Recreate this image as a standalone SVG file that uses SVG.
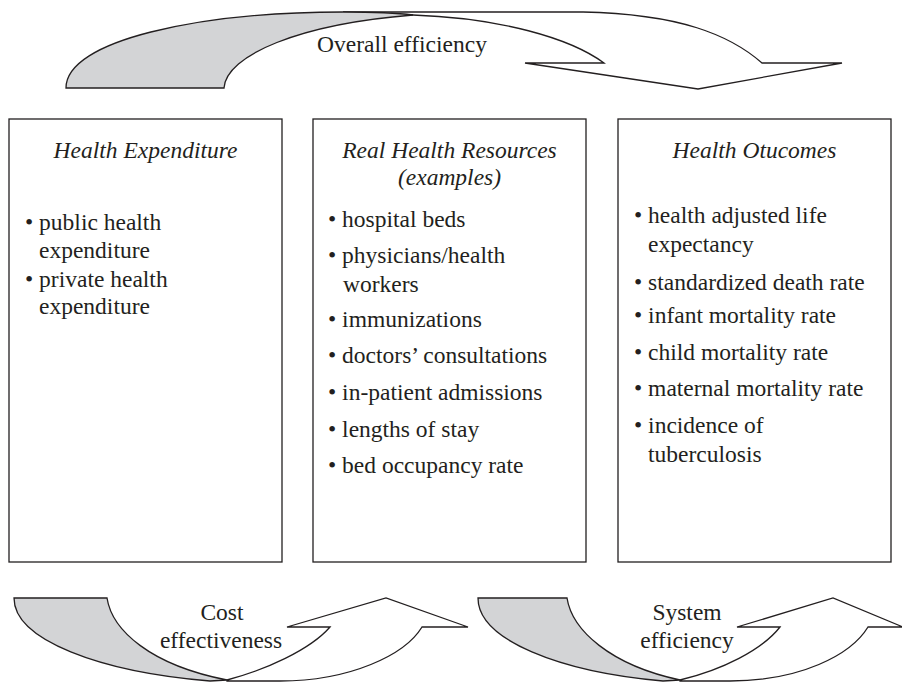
<svg xmlns="http://www.w3.org/2000/svg" width="902" height="682" viewBox="0 0 902 682">
<style>
  .box { fill: #ffffff; stroke: #231f20; stroke-width: 1.3; }
  .wa { fill: #ffffff; stroke: #231f20; stroke-width: 1.3; stroke-linejoin: miter; }
  .ga { fill: #d3d4d6; stroke: #231f20; stroke-width: 1.3; stroke-linejoin: miter; }
  text { font-family: "Liberation Serif", "Times New Roman", serif; font-size: 23.5px; fill: #231f20; }
  .title { font-style: italic; text-anchor: middle; }
  .lbl { text-anchor: middle; }
</style>
<rect width="902" height="682" fill="#ffffff"/>
<g id="connectors">
  <g id="overall-efficiency">
    <path class="wa" d="M343,12 L583,12 C680,14 730,35 762,63 L842,63 L698,89 L525,63 L604,63 C570,38 500,18 413,15 Z"/>
    <path class="ga" d="M66,88 L224,88 C226,55 300,24 413,15 C390,12 370,12 343,12 C200,12 66,40 66,88 Z"/>
    <text class="lbl" x="402" y="52">Overall efficiency</text>
  </g>
  <g id="cost-effectiveness">
    <path class="wa" d="M227,680 C265,670 310,650 330,627 L287,627 L386,598 L468,627 L422,627 C405,655 350,681 280,681 L227,681 Z"/>
    <path class="ga" d="M14,598 L107,598 C112,630 150,665 227,680 L210,681 C100,672 14,640 14,598 Z"/>
    <text class="lbl" x="222" y="620">Cost</text>
    <text class="lbl" x="221" y="648">effectiveness</text>
  </g>
  <g id="system-efficiency">
    <path class="wa" d="M680,680 C722,670 762,650 780,627 L737,627 L833,598 L903,627 L868,627 C851,655 800,681 730,681 L680,681 Z"/>
    <path class="ga" d="M478,598 L567,598 C572,630 610,665 680,680 L663,681 C560,672 478,640 478,598 Z"/>
    <text class="lbl" x="687" y="620">System</text>
    <text class="lbl" x="687" y="648">efficiency</text>
  </g>
</g>
<g id="health-expenditure">
  <rect class="box" x="9" y="119" width="273" height="443"/>
  <text class="title" x="145.5" y="158">Health Expenditure</text>
  <text x="25" y="230">• public health</text>
  <text x="39" y="258">expenditure</text>
  <text x="25" y="287">• private health</text>
  <text x="39" y="314">expenditure</text>
</g>
<g id="real-health-resources">
  <rect class="box" x="313" y="119" width="273" height="443"/>
  <text class="title" x="449.5" y="158">Real Health Resources</text>
  <text class="title" x="449.5" y="185">(examples)</text>
  <text x="328" y="227">• hospital beds</text>
  <text x="328" y="263">• physicians/health</text>
  <text x="343" y="292">workers</text>
  <text x="328" y="327">• immunizations</text>
  <text x="328" y="363">• doctors’ consultations</text>
  <text x="328" y="400">• in-patient admissions</text>
  <text x="328" y="437">• lengths of stay</text>
  <text x="328" y="473">• bed occupancy rate</text>
</g>
<g id="health-outcomes">
  <rect class="box" x="618" y="119" width="273" height="443"/>
  <text class="title" x="754.5" y="158">Health Otucomes</text>
  <text x="634" y="223">• health adjusted life</text>
  <text x="648" y="252">expectancy</text>
  <text x="634" y="290">• standardized death rate</text>
  <text x="634" y="323">• infant mortality rate</text>
  <text x="634" y="360">• child mortality rate</text>
  <text x="634" y="396">• maternal mortality rate</text>
  <text x="634" y="433">• incidence of</text>
  <text x="648" y="462">tuberculosis</text>
</g>
</svg>
